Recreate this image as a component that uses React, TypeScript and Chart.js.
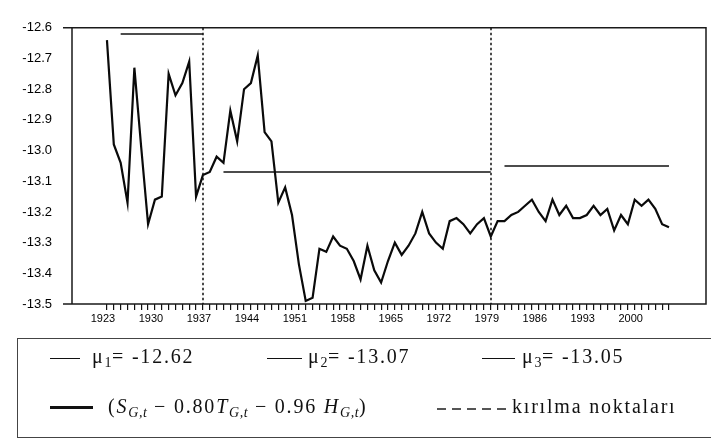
import React, { useEffect, useRef } from "react";
import { Chart, registerables } from "chart.js";

Chart.register(...registerables);

const YEARS = [
  1923, 1924, 1925, 1926, 1927, 1928, 1929, 1930, 1931, 1932,
  1933, 1934, 1935, 1936, 1937, 1938, 1939, 1940, 1941, 1942,
  1943, 1944, 1945, 1946, 1947, 1948, 1949, 1950, 1951, 1952,
  1953, 1954, 1955, 1956, 1957, 1958, 1959, 1960, 1961, 1962,
  1963, 1964, 1965, 1966, 1967, 1968, 1969, 1970, 1971, 1972,
  1973, 1974, 1975, 1976, 1977, 1978, 1979, 1980, 1981, 1982,
  1983, 1984, 1985, 1986, 1987, 1988, 1989, 1990, 1991, 1992,
  1993, 1994, 1995, 1996, 1997, 1998, 1999, 2000, 2001, 2002,
  2003, 2004, 2005,
];

const SERIES = [
  -12.64, -12.98, -13.04, -13.17, -12.73, -12.99, -13.24, -13.16, -13.15, -12.75,
  -12.82, -12.78, -12.71, -13.15, -13.08, -13.07, -13.02, -13.04, -12.87, -12.97,
  -12.80, -12.78, -12.69, -12.94, -12.97, -13.17, -13.12, -13.21, -13.37, -13.49,
  -13.48, -13.32, -13.33, -13.28, -13.31, -13.32, -13.36, -13.42, -13.31, -13.39,
  -13.43, -13.36, -13.30, -13.34, -13.31, -13.27, -13.20, -13.27, -13.30, -13.32,
  -13.23, -13.22, -13.24, -13.27, -13.24, -13.22, -13.28, -13.23, -13.23, -13.21,
  -13.20, -13.18, -13.16, -13.20, -13.23, -13.16, -13.21, -13.18, -13.22, -13.22,
  -13.21, -13.18, -13.21, -13.19, -13.26, -13.21, -13.24, -13.16, -13.18, -13.16,
  -13.19, -13.24, -13.25,
];

const MU_VALUES = [-12.62, -13.07, -13.05];
const MU_START = [1925, 1940, 1981];
const MU_END = [1937, 1979, 2005];

const BREAK_YEARS = [1937, 1979];

const X_TICK_LABELS = [1923, 1930, 1937, 1944, 1951, 1958, 1965, 1972, 1979, 1986, 1993, 2000];
const Y_TICKS = [-12.6, -12.7, -12.8, -12.9, -13.0, -13.1, -13.2, -13.3, -13.4, -13.5];

const W = 711;
const H = 441;

const framePlugin = {
  id: "frameAndBreaks",
  afterDatasetsDraw(chart: any) {
    const { ctx, chartArea, scales } = chart;
    const { left, right, top, bottom } = chartArea;
    const x = scales.x;
    ctx.save();
    ctx.strokeStyle = "#1a1a1a";
    ctx.lineWidth = 1.5;
    ctx.setLineDash([]);
    ctx.beginPath();
    ctx.moveTo(left - 9, top);
    ctx.lineTo(right, top);
    ctx.lineTo(right, bottom);
    ctx.lineTo(left - 9, bottom);
    ctx.moveTo(left, top);
    ctx.lineTo(left, bottom);
    ctx.stroke();

    ctx.setLineDash([2.5, 2.5]);
    ctx.lineWidth = 1.5;
    ctx.strokeStyle = "#111";
    BREAK_YEARS.forEach((yr) => {
      const px = Math.round(x.getPixelForValue(yr));
      ctx.beginPath();
      ctx.moveTo(px, top);
      ctx.lineTo(px, bottom);
      ctx.stroke();
    });
    ctx.restore();
  },
};

function ChartCanvas() {
  const ref = useRef<HTMLCanvasElement | null>(null);
  useEffect(() => {
    if (!ref.current) return;
    const seriesData = YEARS.map((yr, i) => ({ x: yr, y: SERIES[i] }));
    const muSets = MU_VALUES.map((mu, i) => ({
      label: "mu" + (i + 1),
      data: [
        { x: MU_START[i], y: mu },
        { x: MU_END[i], y: mu },
      ],
      borderColor: "#111",
      borderWidth: 1.5,
      pointRadius: 0,
      tension: 0,
      fill: false,
    }));
    const chart = new Chart(ref.current, {
      type: "line",
      data: {
        datasets: [
          {
            label: "series",
            data: seriesData,
            borderColor: "#0a0a0a",
            borderWidth: 2.2,
            pointRadius: 0,
            tension: 0,
            fill: false,
          },
          ...muSets,
        ],
      },
      options: {
        animation: false,
        responsive: false,
        devicePixelRatio: 1,
        layout: { padding: { top: 11, right: 5, left: 0, bottom: 0 } },
        plugins: {
          legend: { display: false },
          title: { display: false },
          tooltip: { enabled: false },
        },
        scales: {
          x: {
            type: "linear",
            min: 1917.9,
            max: 2010.4,
            afterBuildTicks: (s: any) => {
              s.ticks = YEARS.map((v) => ({ value: v }));
            },
            afterFit: (s: any) => {
              s.height = H - 304;
            },
            grid: {
              display: true,
              drawOnChartArea: false,
              drawTicks: true,
              tickLength: 6,
              color: "#111",
              lineWidth: 1.2,
            },
            border: { display: false },
            ticks: {
              autoSkip: false,
              maxRotation: 0,
              minRotation: 0,
              padding: 2,
              labelOffset: -4,
              color: "#000",
              font: { family: "'Liberation Sans', Arial, sans-serif", size: 11 },
              callback: (v: any) => (X_TICK_LABELS.includes(Number(v)) ? String(v) : ""),
            },
          },
          y: {
            type: "linear",
            min: -13.5,
            max: -12.6,
            afterBuildTicks: (s: any) => {
              s.ticks = Y_TICKS.map((v) => ({ value: v }));
            },
            afterFit: (s: any) => {
              s.width = 72;
            },
            grid: { display: false, drawTicks: false },
            border: { display: false },
            ticks: {
              padding: 20,
              color: "#000",
              font: { family: "'Liberation Sans', Arial, sans-serif", size: 13 },
              callback: (v: any) => Number(v).toFixed(1),
            },
          },
        },
      },
      plugins: [framePlugin],
    });
    return () => chart.destroy();
  }, []);
  return <canvas ref={ref} width={W} height={H} style={{ display: "block", width: W, height: H }} />;
}

const serif = "'Liberation Serif', 'Times New Roman', serif";

const textStyle: React.CSSProperties = {
  position: "absolute",
  fontFamily: serif,
  fontSize: 20,
  letterSpacing: "1.8px",
  lineHeight: "22px",
  color: "#111",
  whiteSpace: "nowrap",
};

const subStyle: React.CSSProperties = {
  fontSize: "0.7em",
  verticalAlign: "-0.3em",
  lineHeight: 0,
  letterSpacing: "0.5px",
};

function Line({ x1, x2, y, w }: { x1: number; x2: number; y: number; w: number }) {
  return (
    <div
      style={{
        position: "absolute",
        left: x1,
        top: y - w / 2,
        width: x2 - x1,
        height: w,
        background: "#111",
      }}
    />
  );
}

function DashedLine({ x1, x2, y }: { x1: number; x2: number; y: number }) {
  return (
    <div
      style={{
        position: "absolute",
        left: x1,
        top: y - 1,
        width: x2 - x1,
        height: 1.5,
        background: "repeating-linear-gradient(to right, #555 0px, #555 9px, transparent 9px, transparent 15px)",
      }}
    />
  );
}

export default function App() {
  return (
    <div style={{ position: "absolute", left: 0, top: 0, width: W, height: H, overflow: "hidden", background: "#fff" }}>
      <ChartCanvas />
      <div
        style={{
          position: "absolute",
          left: 17,
          top: 338,
          width: 720,
          height: 100,
          border: "1.5px solid #444",
          boxSizing: "border-box",
        }}
      />
      <Line x1={50} x2={80} y={358} w={1} />
      <div style={{ ...textStyle, left: 92, top: 345 }}>
        μ<span style={subStyle}>1</span>= -12.62
      </div>
      <Line x1={267} x2={302} y={358} w={1} />
      <div style={{ ...textStyle, left: 308, top: 345 }}>
        μ<span style={subStyle}>2</span>= -13.07
      </div>
      <Line x1={482} x2={515} y={358} w={1} />
      <div style={{ ...textStyle, left: 522, top: 345 }}>
        μ<span style={subStyle}>3</span>= -13.05
      </div>

      <Line x1={50} x2={93} y={407} w={3} />
      <div style={{ ...textStyle, left: 108, top: 395 }}>
        (<i>S</i><span style={subStyle}><i>G,t</i></span> − 0.80<i>T</i><span style={subStyle}><i>G,t</i></span> − 0.96 <i>H</i><span style={subStyle}><i>G,t</i></span>)
      </div>
      <DashedLine x1={437} x2={511} y={409} />
      <div style={{ ...textStyle, left: 512, top: 395 }}>kırılma noktaları</div>
    </div>
  );
}
